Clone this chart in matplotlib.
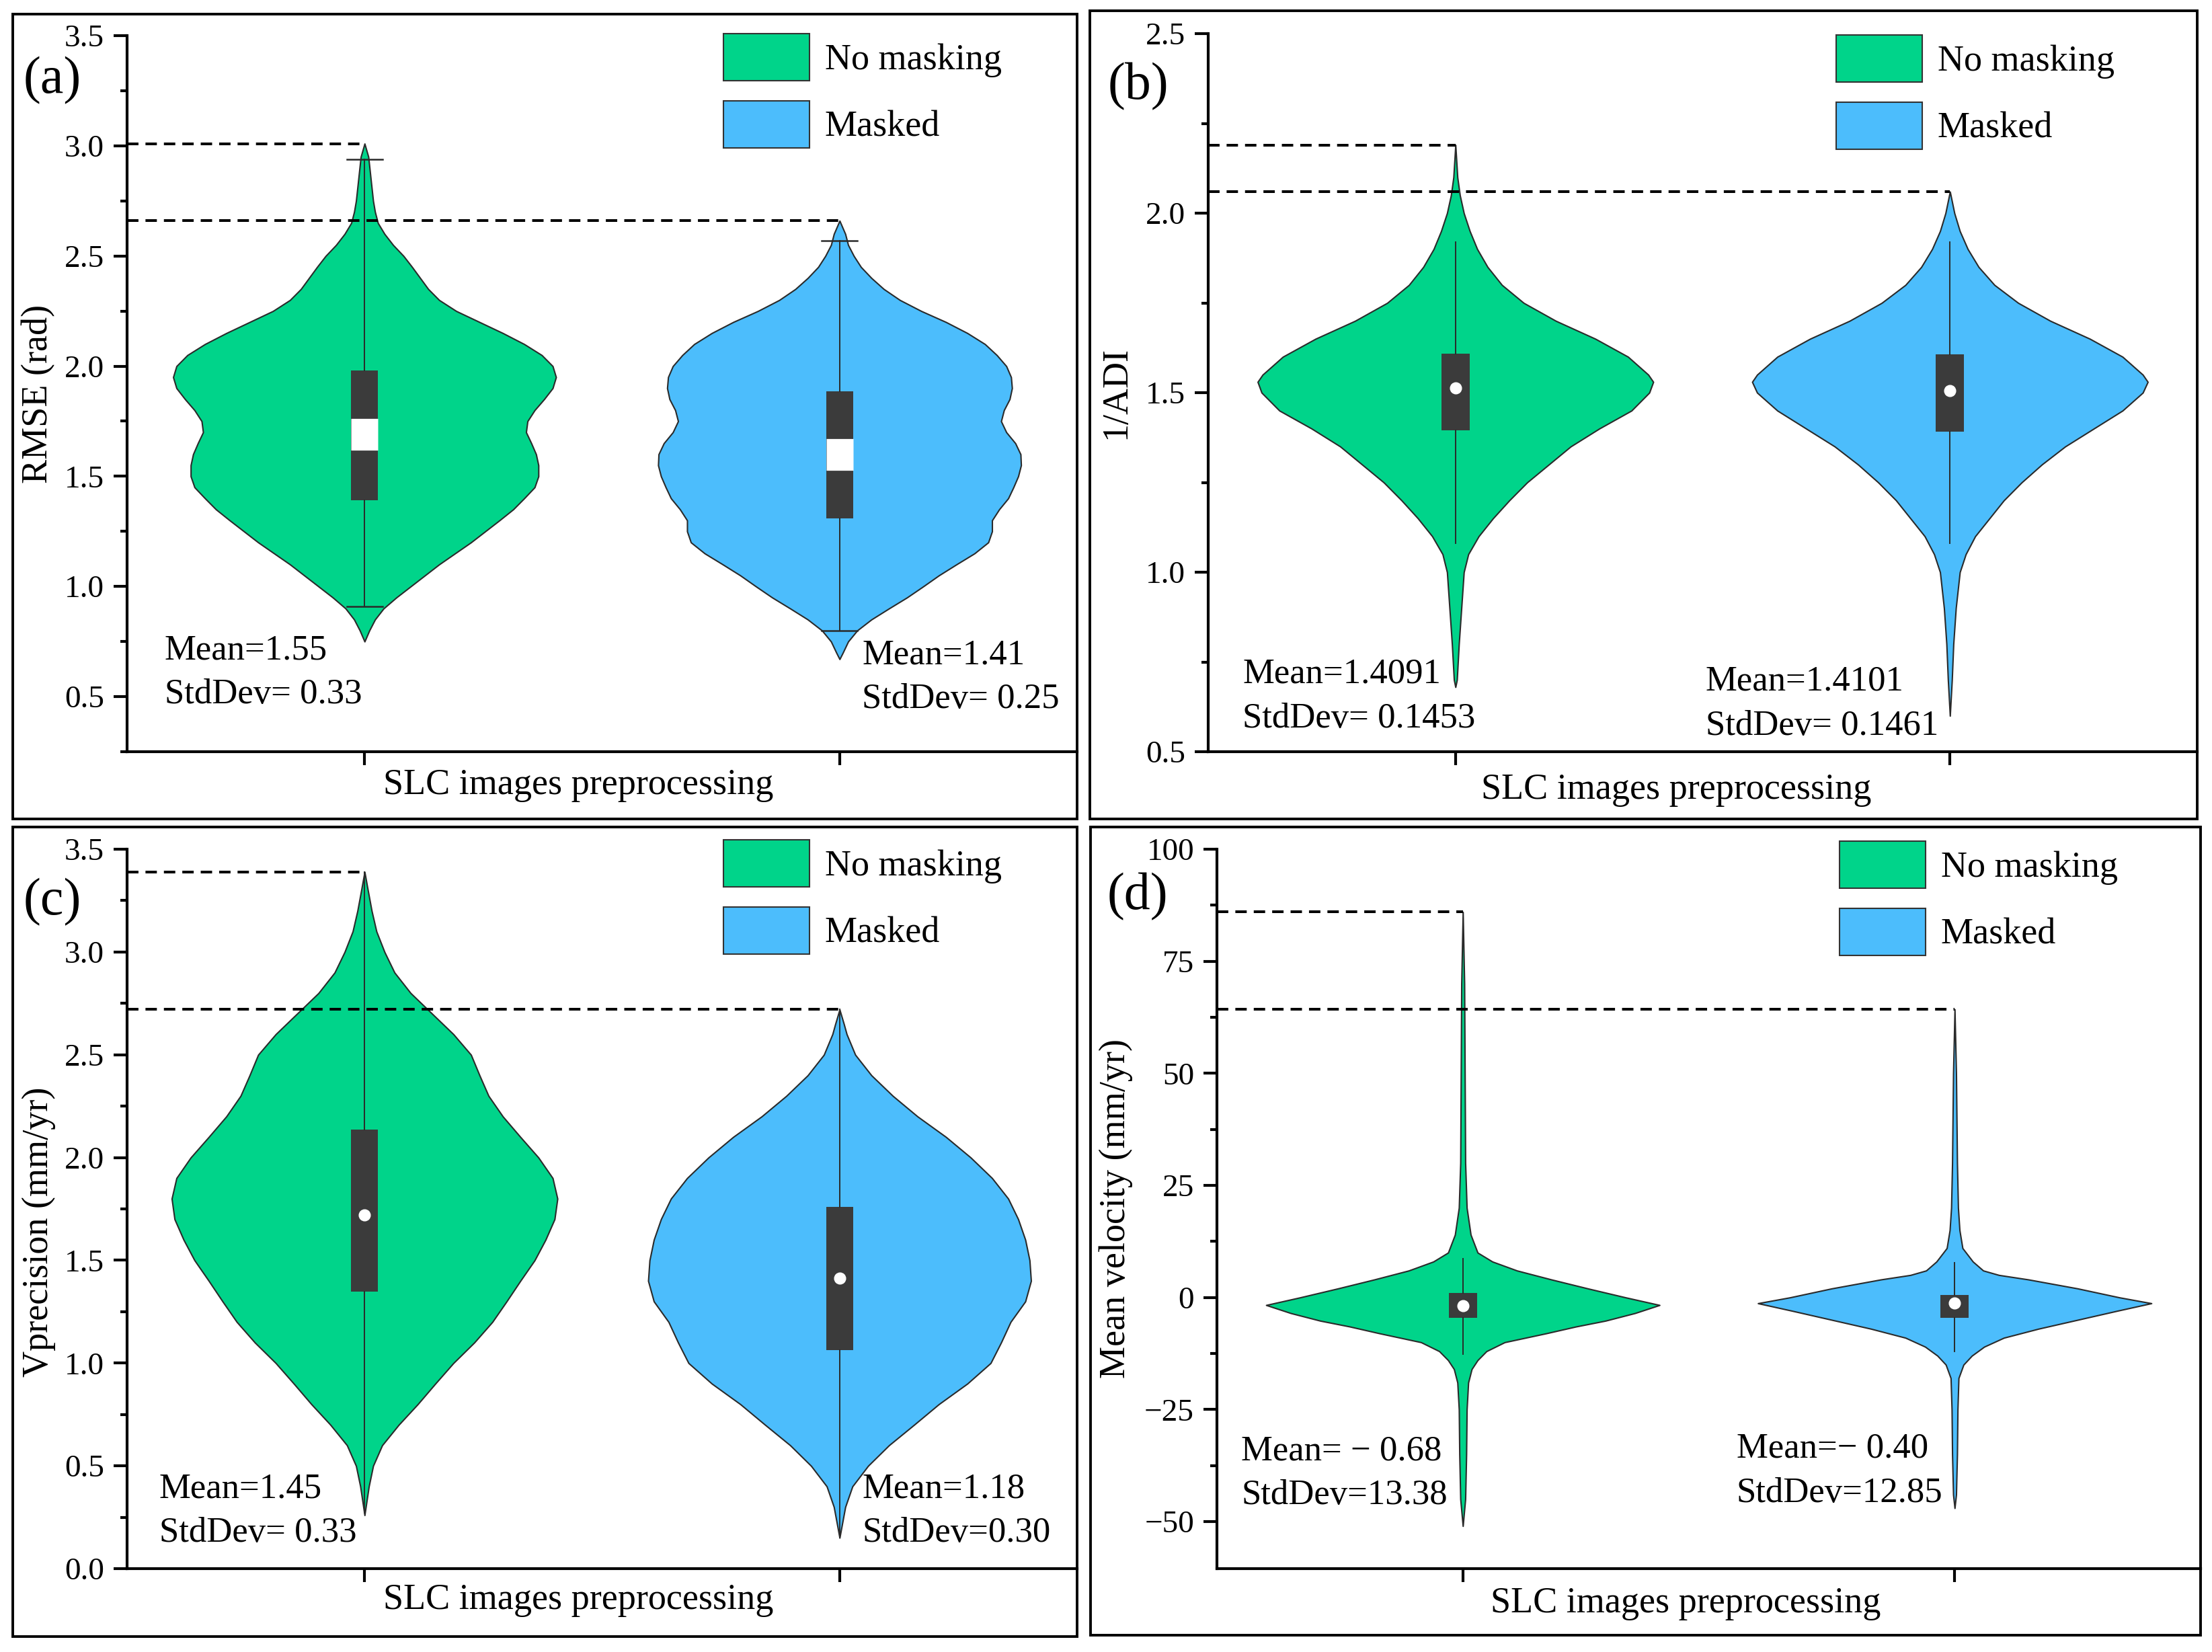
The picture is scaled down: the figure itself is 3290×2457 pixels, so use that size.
import matplotlib
matplotlib.use('Agg')
import matplotlib.pyplot as plt
from matplotlib.patches import Patch, Rectangle
from matplotlib.ticker import MultipleLocator

plt.rcParams['font.family'] = ['Liberation Serif', 'DejaVu Serif']

groups = ['No masking', 'Masked']
colors = ['#00D48A', '#4CBDFC']
positions = [1, 2]

# violin outlines: value -> half width (x units)
# (a) RMSE
rmse_nm_y = [0.75, 0.8, 0.85, 0.9, 0.95, 1.0, 1.1, 1.2, 1.3, 1.35, 1.4, 1.45, 1.5,
             1.55, 1.6, 1.65, 1.7, 1.75, 1.8, 1.85, 1.9, 1.95, 2.0, 2.05, 2.1, 2.15,
             2.2, 2.25, 2.3, 2.35, 2.4, 2.45, 2.5, 2.55, 2.6, 2.65, 2.7, 2.75, 2.85, 2.95, 3.01]
rmse_nm_w = [0, 0.010, 0.022, 0.040, 0.067, 0.097, 0.157, 0.224, 0.284, 0.313, 0.336, 0.358, 0.366,
             0.366, 0.361, 0.351, 0.340, 0.343, 0.358, 0.378, 0.396, 0.403, 0.396, 0.373, 0.336, 0.291,
             0.242, 0.193, 0.157, 0.134, 0.117, 0.100, 0.082, 0.060, 0.042, 0.028, 0.022, 0.018, 0.013, 0.008, 0]
rmse_m_y = [0.67, 0.7, 0.75, 0.8, 0.85, 0.9, 0.95, 1.0, 1.05, 1.1, 1.15, 1.2, 1.25, 1.3,
            1.35, 1.4, 1.45, 1.5, 1.55, 1.6, 1.65, 1.7, 1.75, 1.8, 1.85, 1.9, 1.95, 2.0,
            2.05, 2.1, 2.15, 2.2, 2.25, 2.3, 2.35, 2.4, 2.45, 2.5, 2.55, 2.6, 2.66]
rmse_m_w = [0, 0.007, 0.018, 0.037, 0.067, 0.104, 0.142, 0.176, 0.209, 0.246, 0.284, 0.313, 0.321, 0.321,
            0.336, 0.355, 0.366, 0.376, 0.382, 0.381, 0.370, 0.351, 0.340, 0.346, 0.358, 0.363, 0.361, 0.351,
            0.331, 0.306, 0.269, 0.224, 0.172, 0.127, 0.093, 0.067, 0.045, 0.030, 0.018, 0.012, 0]

# (b) 1/ADI
adi_nm_y = [0.68, 0.7, 0.8, 0.9, 1.0, 1.05, 1.1, 1.15, 1.2, 1.25, 1.3, 1.35, 1.4, 1.45, 1.5,
            1.53, 1.55, 1.6, 1.65, 1.7, 1.75, 1.8, 1.85, 1.9, 1.95, 2.0, 2.05, 2.1, 2.19]
adi_nm_w = [0, 0.003, 0.007, 0.012, 0.017, 0.026, 0.047, 0.076, 0.109, 0.145, 0.189, 0.233, 0.291, 0.356, 0.392,
            0.400, 0.390, 0.349, 0.283, 0.203, 0.138, 0.094, 0.065, 0.044, 0.029, 0.017, 0.009, 0.004, 0]
adi_m_y = [0.6, 0.7, 0.8, 0.9, 1.0, 1.05, 1.1, 1.15, 1.2, 1.25, 1.3, 1.35, 1.4, 1.45, 1.5,
           1.53, 1.55, 1.6, 1.65, 1.7, 1.75, 1.8, 1.85, 1.9, 1.95, 2.0, 2.06]
adi_m_w = [0, 0.004, 0.007, 0.012, 0.020, 0.032, 0.051, 0.080, 0.109, 0.145, 0.186, 0.233, 0.291, 0.349, 0.390,
           0.400, 0.390, 0.349, 0.283, 0.203, 0.138, 0.090, 0.058, 0.036, 0.020, 0.009, 0]

# (c) Vprecision
vp_nm_y = [0.26, 0.4, 0.5, 0.6, 0.7, 0.8, 0.9, 1.0, 1.1, 1.2, 1.3, 1.4, 1.5, 1.6, 1.7, 1.8,
           1.9, 2.0, 2.1, 2.2, 2.3, 2.4, 2.5, 2.6, 2.7, 2.8, 2.9, 3.0, 3.1, 3.2, 3.3, 3.39]
vp_nm_w = [0, 0.009, 0.018, 0.037, 0.072, 0.112, 0.149, 0.187, 0.231, 0.269, 0.299, 0.328, 0.358, 0.381, 0.400, 0.406,
           0.396, 0.366, 0.328, 0.291, 0.261, 0.242, 0.224, 0.187, 0.142, 0.097, 0.063, 0.042, 0.025, 0.015, 0.007, 0]
vp_m_y = [0.15, 0.3, 0.4, 0.5, 0.6, 0.7, 0.8, 0.9, 1.0, 1.1, 1.2, 1.3, 1.4, 1.5, 1.6, 1.7,
          1.8, 1.9, 2.0, 2.1, 2.2, 2.3, 2.4, 2.5, 2.6, 2.65, 2.72]
vp_m_w = [0, 0.012, 0.027, 0.060, 0.104, 0.157, 0.209, 0.269, 0.318, 0.340, 0.360, 0.391, 0.403, 0.400, 0.391, 0.376,
          0.355, 0.321, 0.276, 0.224, 0.164, 0.112, 0.067, 0.033, 0.015, 0.009, 0]

# (d) Mean velocity
mv_nm_y = [-51, -45, -35, -25, -19, -16, -14, -12, -10, -8, -6.5, -5.2, -3.5, -1.7, 0, 2, 4, 6, 8, 10,
           14, 20, 30, 50, 70, 86]
mv_nm_w = [0, 0.005, 0.007, 0.008, 0.011, 0.018, 0.030, 0.048, 0.085, 0.170, 0.230, 0.290, 0.350, 0.400, 0.331,
           0.254, 0.180, 0.110, 0.060, 0.030, 0.016, 0.008, 0.005, 0.004, 0.003, 0]
mv_m_y = [-47, -44, -35, -25, -18, -15, -13, -11, -9, -7, -5, -3, -1.3, 0, 2, 4, 5, 6, 8, 11,
          15, 20, 30, 50, 64.3]
mv_m_w = [0, 0.003, 0.005, 0.006, 0.008, 0.018, 0.035, 0.060, 0.100, 0.170, 0.250, 0.330, 0.400, 0.335, 0.250,
          0.150, 0.090, 0.058, 0.037, 0.016, 0.010, 0.007, 0.005, 0.003, 0]

# box + whisker values [no masking, masked]
rmse_q1, rmse_q3, rmse_med = [1.39, 1.31], [1.98, 1.885], [1.69, 1.60]
rmse_lo, rmse_hi = [0.91, 0.80], [2.94, 2.57]
adi_q1, adi_q3, adi_med = [1.396, 1.392], [1.608, 1.606], [1.513, 1.506]
adi_lo, adi_hi = [1.08, 1.08], [1.92, 1.92]
vp_q1, vp_q3, vp_med = [1.348, 1.063], [2.136, 1.761], [1.722, 1.412]
vp_lo, vp_hi = [0.27, 0.15], [3.39, 2.72]
mv_q1, mv_q3, mv_med = [-4.6, -4.6], [1.0, 0.6], [-1.9, -1.3]
mv_lo, mv_hi = [-12.7, -12.0], [8.6, 7.8]

rmse_mean = ['Mean=1.55', 'Mean=1.41']
rmse_std = ['StdDev= 0.33', 'StdDev= 0.25']
adi_mean = ['Mean=1.4091', 'Mean=1.4101']
adi_std = ['StdDev= 0.1453', 'StdDev= 0.1461']
vp_mean = ['Mean=1.45', 'Mean=1.18']
vp_std = ['StdDev= 0.33', 'StdDev=0.30']
mv_mean = ['Mean= \u2212 0.68', 'Mean=\u2212 0.40']
mv_std = ['StdDev=13.38', 'StdDev=12.85']

W, H = 3290, 2457
fig = plt.figure(figsize=(W / 100, H / 100), dpi=100)


def fx(px):
    return px / W


def fy(py):
    return 1 - py / H


panels = [
    dict(tag='(a)', tag_xy=(35, 120), frame=(19, 21, 1602, 1218), box=(189, 53, 1602, 1118),
         ylim=(0.25, 3.5), major=0.5, minor=0.25, ylabel='RMSE (rad)', ylab_xy=(57, 586),
         xlab_xy=(860, 1181), leg_xy=(1076, 50),
         outlines=[(rmse_nm_y, rmse_nm_w), (rmse_m_y, rmse_m_w)],
         q1=rmse_q1, q3=rmse_q3, med=rmse_med, lo=rmse_lo, hi=rmse_hi, caps=True, band=True,
         mean=rmse_mean, std=rmse_std, txt_xy=[(245, 980), (1282, 987)], bw=0.057),
    dict(tag='(b)', tag_xy=(1648, 129), frame=(1621, 16, 3268, 1218), box=(1797, 50, 3268, 1118),
         ylim=(0.5, 2.5), major=0.5, minor=0.25, ylabel='1/ADI', ylab_xy=(1660, 584),
         xlab_xy=(2493, 1188), leg_xy=(2731, 52),
         outlines=[(adi_nm_y, adi_nm_w), (adi_m_y, adi_m_w)],
         q1=adi_q1, q3=adi_q3, med=adi_med, lo=adi_lo, hi=adi_hi, caps=False, band=False,
         mean=adi_mean, std=adi_std, txt_xy=[(1848, 1016), (2537, 1027)], bw=0.057),
    dict(tag='(c)', tag_xy=(35, 1342), frame=(19, 1230, 1602, 2434), box=(189, 1263, 1602, 2333),
         ylim=(0.0, 3.5), major=0.5, minor=0.25, ylabel='Vprecision (mm/yr)', ylab_xy=(58, 1832),
         xlab_xy=(860, 2393), leg_xy=(1076, 1249),
         outlines=[(vp_nm_y, vp_nm_w), (vp_m_y, vp_m_w)],
         q1=vp_q1, q3=vp_q3, med=vp_med, lo=vp_lo, hi=vp_hi, caps=False, band=False,
         mean=vp_mean, std=vp_std, txt_xy=[(237, 2227), (1282, 2227)], bw=0.057),
    dict(tag='(d)', tag_xy=(1647, 1334), frame=(1622, 1230, 3273, 2432), box=(1810, 1263, 3273, 2333),
         ylim=(-60.5, 100), major=25, minor=12.5, ylabel='Mean velocity (mm/yr)', ylab_xy=(1660, 1798),
         xlab_xy=(2507, 2398), leg_xy=(2736, 1251),
         outlines=[(mv_nm_y, mv_nm_w), (mv_m_y, mv_m_w)],
         q1=mv_q1, q3=mv_q3, med=mv_med, lo=mv_lo, hi=mv_hi, caps=False, band=False,
         mean=mv_mean, std=mv_std, txt_xy=[(1846, 2171), (2583, 2168)], bw=0.058),
]

edge = '#2a2a2a'
box_c = '#3b3b3b'

for p in panels:
    x0, y0, x1, y1 = p['frame']
    fig.add_artist(Rectangle((fx(x0), fy(y1)), (x1 - x0) / W, (y1 - y0) / H,
                             transform=fig.transFigure, fill=False, lw=2.8, ec='black'))
    l, t, r, b = p['box']
    ax = fig.add_axes([fx(l), fy(b), (r - l) / W, (b - t) / H])
    ax.patch.set_visible(False)
    ax.set_xlim(0.5, 2.5)
    ax.set_ylim(*p['ylim'])

    # violins
    vpstats = []
    widths = []
    for ys, ws in p['outlines']:
        vpstats.append(dict(coords=ys, vals=ws, mean=0, median=0, min=min(ys), max=max(ys)))
        widths.append(2 * max(ws))
    parts = ax.violin(vpstats, positions=positions, widths=widths, showextrema=False)
    for body, c in zip(parts['bodies'], colors):
        body.set_facecolor(c)
        body.set_edgecolor(edge)
        body.set_linewidth(1.5)
        body.set_alpha(1)
        body.set_zorder(2)

    # box + whiskers
    stats = []
    for i in range(2):
        stats.append(dict(med=p['med'][i], q1=p['q1'][i], q3=p['q3'][i], whislo=p['lo'][i],
                          whishi=p['hi'][i], mean=p['med'][i], fliers=[]))
    if p['band']:
        medprops = dict(color='white', linewidth=34, solid_capstyle='butt')
        show_dot = False
    else:
        medprops = dict(linewidth=0)
        show_dot = True
    ax.bxp(stats, positions=positions, widths=p['bw'], patch_artist=True, showfliers=False,
           showcaps=p['caps'], capwidths=0.075, showmeans=show_dot, manage_ticks=False,
           boxprops=dict(facecolor=box_c, edgecolor=box_c, linewidth=0),
           whiskerprops=dict(color=edge, linewidth=1.4),
           capprops=dict(color=edge, linewidth=1.8),
           medianprops=medprops,
           meanprops=dict(marker='o', markerfacecolor='white', markeredgecolor='white', markersize=12),
           zorder=3)

    # dashed reference lines at each violin's top
    for (ys, ws), pos in zip(p['outlines'], positions):
        ax.plot([0.5, pos], [max(ys), max(ys)], color='black', lw=2.9, ls=(0, (4.2, 2.6)), zorder=4)

    ax.spines['top'].set_visible(False)
    ax.spines['right'].set_visible(False)
    for s in ('left', 'bottom'):
        ax.spines[s].set_linewidth(3.0)
    ax.yaxis.set_major_locator(MultipleLocator(p['major']))
    ax.yaxis.set_minor_locator(MultipleLocator(p['minor']))
    ax.set_xticks(positions)
    ax.set_xticklabels([])
    ax.tick_params(axis='both', which='major', length=14.4, width=3.0, direction='out', labelsize=34, pad=10)
    ax.tick_params(axis='y', which='minor', length=7.2, width=3.0, direction='out')
    ax.tick_params(axis='x', which='minor', length=0)

    ax.set_ylabel(p['ylabel'], fontsize=39)
    ax.yaxis.label.set_va('center')
    ax.yaxis.set_label_coords((p['ylab_xy'][0] - l) / (r - l), (b - p['ylab_xy'][1]) / (b - t))
    ax.set_xlabel('SLC images preprocessing', fontsize=39)
    ax.xaxis.label.set_va('baseline')
    ax.xaxis.set_label_coords((p['xlab_xy'][0] - l) / (r - l), (b - p['xlab_xy'][1]) / (b - t))

    handles = [Patch(facecolor=c, edgecolor='#333333', lw=1.5, label=g) for c, g in zip(colors, groups)]
    ax.legend(handles=handles, loc='upper left', bbox_to_anchor=(fx(p['leg_xy'][0]), fy(p['leg_xy'][1])),
              bbox_transform=fig.transFigure, frameon=False, fontsize=39, handlelength=2.36,
              handleheight=1.61, handletextpad=0.42, labelspacing=0.55, borderpad=0, borderaxespad=0)

    for i in range(2):
        tx, ty = p['txt_xy'][i]
        fig.text(fx(tx), fy(ty), p['mean'][i], fontsize=38, ha='left', va='baseline')
        fig.text(fx(tx), fy(ty + 66), p['std'][i], fontsize=38, ha='left', va='baseline')

    fig.text(fx(p['tag_xy'][0]), fy(p['tag_xy'][1]), p['tag'], fontsize=56, ha='left', va='center')

fig.savefig('out.png', dpi=100, facecolor='white')
